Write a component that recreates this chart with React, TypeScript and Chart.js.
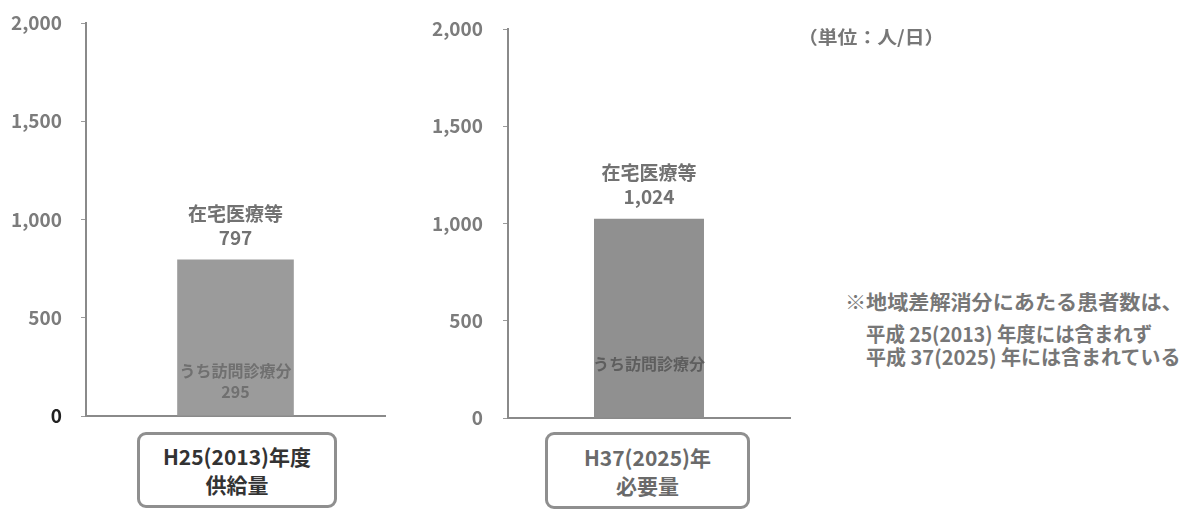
import React, { useEffect, useRef } from 'react';
import { Chart, registerables } from 'chart.js';

Chart.register(...registerables);

// ---- data ----
const categories = ['H25(2013)年度', 'H37(2025)年'];
const categoryKinds = ['供給量', '必要量'];
const seriesName = '在宅医療等';
const homeCareTotals = [797, 1024];
const subSeriesName = 'うち訪問診療分';
const visitValues: (number | null)[] = [295, null];
const yTickValues = [0, 500, 1000, 1500, 2000];
const unitText = '（単位：人/日）';
const noteLines = [
  '※地域差解消分にあたる患者数は、',
  '平成 25(2013) 年度には含まれず',
  '平成 37(2025) 年には含まれている',
];

// ---- layout ----
const FONT = '"Noto Sans CJK JP", "Noto Sans", sans-serif';
const CANVAS_H = 430;
const panels = [
  { left: 0, width: 400, axisX: 86, right: 385, top: 23, bottom: 416, barColor: '#9b9b9b', pad: 19,
    box: { x: 137, y: 432, w: 200, h: 76 } },
  { left: 420, width: 380, axisX: 508, right: 790, top: 29, bottom: 418, barColor: '#909090', pad: 20,
    box: { x: 545, y: 432, w: 205, h: 77 } },
];
const noteStyles = [
  { left: 845, top: 288, scale: 1.055 },
  { left: 866, top: 320, scale: 0.97 },
  { left: 866, top: 343, scale: 1.0 },
];

const fmt = (v: number) => v.toLocaleString('en-US');

function Panel({ idx }: { idx: number }) {
  const ref = useRef<HTMLCanvasElement>(null);
  const p = panels[idx];
  useEffect(() => {
    const labelPlugin = {
      id: 'barLabels',
      afterDatasetsDraw(chart: any) {
        const el = chart.getDatasetMeta(0).data[0];
        if (!el) return;
        const ctx = chart.ctx;
        const yScale = chart.scales.y;
        const base = yScale.getPixelForValue(0);
        ctx.save();
        ctx.textAlign = 'center';
        ctx.textBaseline = 'middle';
        ctx.fillStyle = '#727272';
        ctx.font = `bold 19px ${FONT}`;
        ctx.fillText(seriesName, el.x, el.y - 46);
        ctx.fillText(fmt(homeCareTotals[idx]), el.x, el.y - 22);
        const sub = visitValues[idx];
        ctx.font = `bold 16px ${FONT}`;
        if (sub != null) {
          ctx.fillStyle = '#707070';
          ctx.fillText(subSeriesName, el.x, base - 45);
          ctx.fillText(fmt(sub), el.x, base - 24);
        } else {
          ctx.fillStyle = '#5e5e5e';
          ctx.fillText(subSeriesName, el.x, base - 54);
        }
        ctx.restore();
      },
    };
    const chart = new Chart(ref.current!, {
      type: 'bar',
      data: {
        labels: [categories[idx]],
        datasets: [{
          label: seriesName,
          data: [homeCareTotals[idx]],
          backgroundColor: p.barColor,
          barPercentage: 0.39,
          categoryPercentage: 1,
        }],
      },
      options: {
        animation: false,
        responsive: false,
        maintainAspectRatio: false,
        layout: { padding: { top: p.top, right: p.width - (p.right - p.left), bottom: 0, left: 0 } },
        plugins: { legend: { display: false }, tooltip: { enabled: false } },
        scales: {
          x: {
            grid: { display: false },
            border: { display: true, color: '#8a8a8a', width: 2 },
            ticks: { display: false },
            afterFit: (s: any) => { s.height = CANVAS_H - p.bottom; s.paddingTop = 0; s.paddingBottom = 0; },
          },
          y: {
            min: 0,
            max: 2000,
            afterBuildTicks: (s: any) => { s.ticks = yTickValues.map((v) => ({ value: v })); },
            grid: { drawOnChartArea: false, drawTicks: true, tickLength: 5, color: '#9a9a9a' },
            border: { display: true, color: '#8a8a8a', width: 2 },
            ticks: {
              padding: p.pad,
              color: (c: any) => (idx === 0 && c.tick && c.tick.value === 0 ? '#222' : '#7c7c7c'),
              font: { family: FONT, size: 19, weight: 'bold' },
              callback: (v: any) => fmt(Number(v)),
            },
            afterFit: (s: any) => { s.width = p.axisX - p.left; s.paddingTop = 0; s.paddingBottom = 0; },
          },
        },
      } as any,
      plugins: [labelPlugin],
    });
    return () => chart.destroy();
  }, []);
  return (
    <>
      <canvas
        ref={ref}
        width={p.width}
        height={CANVAS_H}
        style={{ position: 'absolute', left: p.left, top: 0, width: p.width, height: CANVAS_H }}
      />
      <div
        style={{
          position: 'absolute', left: p.box.x, top: p.box.y, width: p.box.w, height: p.box.h,
          boxSizing: 'border-box', border: '3px solid #8f8f8f', borderRadius: 9,
          display: 'flex', flexDirection: 'column', alignItems: 'center', justifyContent: 'center',
          fontFamily: FONT, fontWeight: 'bold', fontSize: 21, lineHeight: '28px', color: idx === 0 ? '#333' : '#6a6a6a',
        }}
      >
        <div>{categories[idx]}</div>
        <div>{categoryKinds[idx]}</div>
      </div>
    </>
  );
}

export default function App() {
  return (
    <div style={{ position: 'absolute', left: 0, top: 0, width: 1191, height: 511, background: '#fff', overflow: 'hidden' }}>
      <Panel idx={0} />
      <Panel idx={1} />
      <div style={{ position: 'absolute', left: 798, top: 23, fontFamily: FONT, fontWeight: 'bold', fontSize: 18, color: '#777', whiteSpace: 'nowrap', transform: 'scaleX(1.1)', transformOrigin: 'left top' }}>
        {unitText}
      </div>
      {noteLines.map((line, i) => (
        <div
          key={i}
          style={{
            position: 'absolute', left: noteStyles[i].left, top: noteStyles[i].top,
            fontFamily: FONT, fontWeight: 'bold', fontSize: 20, lineHeight: '28px', color: '#777',
            whiteSpace: 'nowrap', transform: `scaleX(${noteStyles[i].scale})`, transformOrigin: 'left top',
          }}
        >
          {line}
        </div>
      ))}
    </div>
  );
}
